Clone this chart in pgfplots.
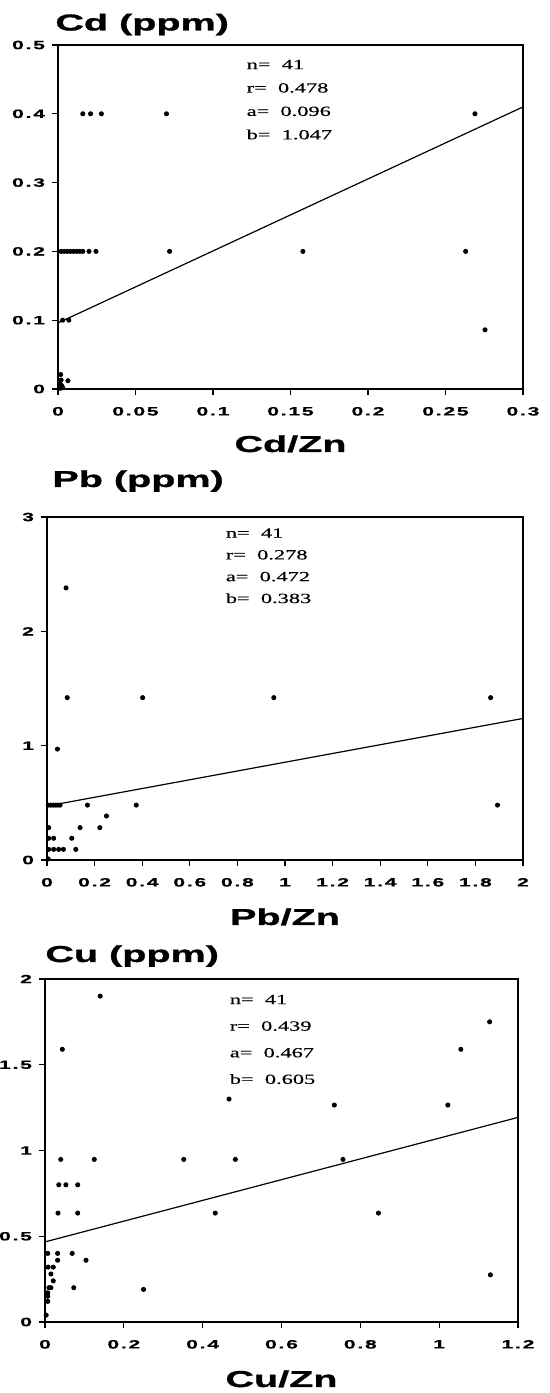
\documentclass[border=0pt]{standalone}
\usepackage{fontspec}
\usepackage{pgfplots}
\pgfplotsset{compat=1.18}
\newfontfamily\titlefont{Liberation Sans Bold}[FakeStretch=1.72,FakeBold=1.2]
\newfontfamily\tickfont{Liberation Sans Bold}[FakeStretch=1.75,LetterSpace=15,FakeBold=0.8]
\newfontfamily\annofont{Liberation Serif}[FakeStretch=1.6,FakeBold=0.4]

\pgfplotsset{
  panel/.style={
    scale only axis,
    clip=false,
    axis line style={line width=0.7pt},
    tick style={line width=0.6pt, black},
    tick align=outside,
    xtick pos=bottom, ytick pos=left,
    major tick length=3pt,
    tick label style={font=\tickfont\fontsize{6}{7}\selectfont},
    x tick label style={yshift=-2.5pt},
  },
  dots/.style={only marks, mark=*, mark size=1.05pt, black},
  fit/.style={no marks, line width=0.6pt, black},
}

\begin{document}
\begin{tikzpicture}
\useasboundingbox (0,0) rectangle (275pt,696.5pt);

% ---------------- Cd panel ----------------
\begin{axis}[panel, at={(29pt,502pt)}, anchor=south west,
  width=232.5pt, height=172pt,
  xmin=0, xmax=0.3, ymin=0, ymax=0.5,
  xtick={0,0.05,0.1,0.15,0.2,0.25,0.3},
  xticklabels={0,0.05,0.1,0.15,0.2,0.25,0.3},
  ytick={0,0.1,0.2,0.3,0.4,0.5},
  yticklabels={0,0.1,0.2,0.3,0.4,0.5}]
\addplot[dots] coordinates {
 (0.016,0.4) (0.021,0.4) (0.028,0.4) (0.070,0.4) (0.269,0.4)
 (0.002,0.2) (0.004,0.2) (0.006,0.2) (0.008,0.2) (0.010,0.2) (0.012,0.2) (0.014,0.2) (0.016,0.2)
 (0.020,0.2) (0.0245,0.2) (0.072,0.2) (0.158,0.2) (0.263,0.2)
 (0.003,0.1) (0.007,0.1)
 (0.2755,0.086)
 (0.001,0.003) (0.002,0.006) (0.003,0.002) (0.001,0.010) (0.002,0.013)
 (0.0015,0.001) (0.0025,0.004) (0.0064,0.012) (0.0017,0.021)
};
\addplot[fit] coordinates {(0,0.096) (0.3,0.410)};
\node[anchor=north west, inner sep=0pt, align=left,
  font=\annofont\fontsize{7}{11.7}\selectfont]
  at (rel axis cs:0.405,0.958) {n=~~41\\r=~~0.478\\a=~~0.096\\b=~~1.047};
\end{axis}
\node[anchor=base west, inner sep=0pt, font=\titlefont\fontsize{11.5}{13}\selectfont]
  at (27.5pt,681.25pt) {Cd (ppm)};
\node[anchor=base, inner sep=0pt, font=\titlefont\fontsize{11.5}{13}\selectfont]
  at (145.25pt,470.5pt) {Cd/Zn};

% ---------------- Pb panel ----------------
\begin{axis}[panel, at={(23.5pt,266.5pt)}, anchor=south west,
  width=238pt, height=171.5pt,
  xmin=0, xmax=2, ymin=0, ymax=3,
  xtick={0,0.2,0.4,0.6,0.8,1,1.2,1.4,1.6,1.8,2},
  xticklabels={0,0.2,0.4,0.6,0.8,1,1.2,1.4,1.6,1.8,2},
  ytick={0,1,2,3},
  yticklabels={0,1,2,3}]
\addplot[dots] coordinates {
 (0.08,2.38)
 (0.085,1.42) (0.402,1.42) (0.953,1.42) (1.864,1.42)
 (0.044,0.97)
 (0.005,0.48) (0.015,0.48) (0.025,0.48) (0.035,0.48) (0.045,0.48) (0.055,0.48)
 (0.17,0.48) (0.375,0.48) (1.893,0.48)
 (0.25,0.385)
 (0.007,0.283) (0.139,0.283) (0.222,0.283)
 (0.007,0.19) (0.028,0.19) (0.104,0.19)
 (0.007,0.093) (0.028,0.093) (0.049,0.093) (0.069,0.093) (0.121,0.093)
 (0.005,0.01)
};
\addplot[fit] coordinates {(0,0.472) (2,1.238)};
\node[anchor=north west, inner sep=0pt, align=left,
  font=\annofont\fontsize{7}{10.9}\selectfont]
  at (rel axis cs:0.375,0.968) {n=~~41\\r=~~0.278\\a=~~0.472\\b=~~0.383};
\end{axis}
\node[anchor=base west, inner sep=0pt, font=\titlefont\fontsize{11.5}{13}\selectfont]
  at (26pt,453pt) {Pb (ppm)};
\node[anchor=base, inner sep=0pt, font=\titlefont\fontsize{11.5}{13}\selectfont]
  at (142.5pt,234pt) {Pb/Zn};

% ---------------- Cu panel ----------------
\begin{axis}[panel, at={(22.5pt,35.5pt)}, anchor=south west,
  width=236.5pt, height=171.5pt,
  xmin=0, xmax=1.2, ymin=0, ymax=2,
  xtick={0,0.2,0.4,0.6,0.8,1,1.2},
  xticklabels={0,0.2,0.4,0.6,0.8,1,1.2},
  ytick={0,0.5,1,1.5,2},
  yticklabels={0,0.5,1,1.5,2}]
\addplot[dots] coordinates {
 (0.14,1.90) (1.128,1.75) (0.044,1.59) (1.055,1.59) (0.467,1.30) (0.734,1.265) (1.022,1.265)
 (0.04,0.948) (0.125,0.948) (0.352,0.948) (0.483,0.948) (0.756,0.948)
 (0.035,0.80) (0.053,0.80) (0.083,0.80)
 (0.033,0.635) (0.083,0.635) (0.432,0.635) (0.846,0.635)
 (0.007,0.40) (0.032,0.40) (0.069,0.40)
 (0.032,0.36) (0.104,0.36)
 (0.008,0.32) (0.021,0.32)
 (0.015,0.28) (1.13,0.275)
 (0.021,0.24)
 (0.010,0.20) (0.015,0.20) (0.073,0.20) (0.25,0.19)
 (0.007,0.17) (0.007,0.15) (0.007,0.12) (0.003,0.04)
};
\addplot[fit] coordinates {(0,0.467) (1.2,1.193)};
\node[anchor=north west, inner sep=0pt, align=left,
  font=\annofont\fontsize{7}{13.3}\selectfont]
  at (rel axis cs:0.39,0.955) {n=~~41\\r=~~0.439\\a=~~0.467\\b=~~0.605};
\end{axis}
\node[anchor=base west, inner sep=0pt, font=\titlefont\fontsize{11.5}{13}\selectfont]
  at (22.5pt,215.5pt) {Cu (ppm)};
\node[anchor=base, inner sep=0pt, font=\titlefont\fontsize{11.5}{13}\selectfont]
  at (140.75pt,3pt) {Cu/Zn};
\end{tikzpicture}
\end{document}
